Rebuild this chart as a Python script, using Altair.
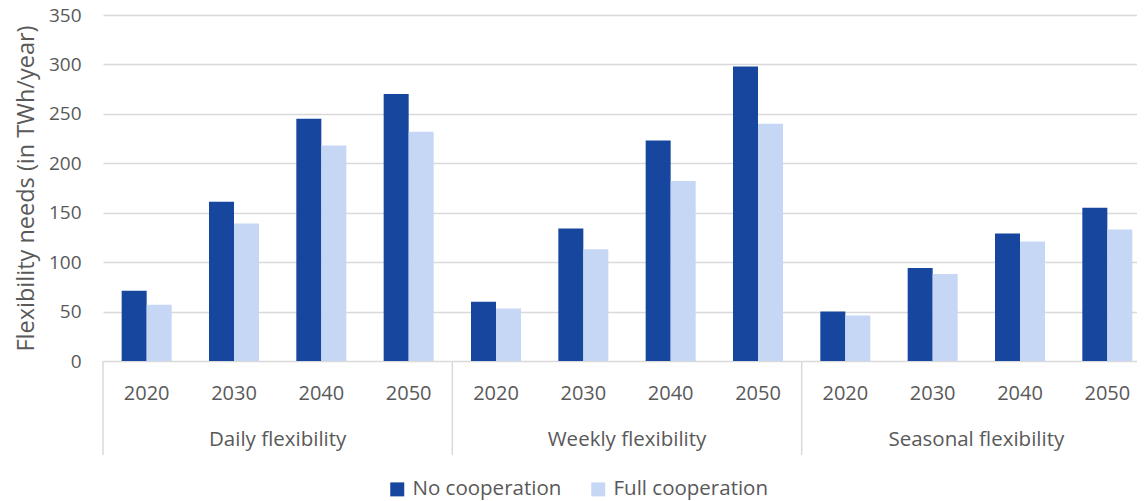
import altair as alt
import pandas as pd

groups = ["Daily flexibility", "Weekly flexibility", "Seasonal flexibility"]
years = ["2020", "2030", "2040", "2050"]
series = ["No cooperation", "Full cooperation"]
no_coop = [71, 161, 245, 270, 60, 134, 223, 298, 50, 94, 129, 155]
full_coop = [57, 139, 218, 232, 53, 113, 182, 240, 46, 88, 121, 133]
y_ticks = [0, 50, 100, 150, 200, 250, 300, 350]
colors = ["#17469E", "#C5D7F5"]
TEXT = "#595959"
GRID = "#D9D9D9"
FONT = "Open Sans"

cats = [f"{g}|{y}" for g in groups for y in years]
rows = []
for k, c in enumerate(cats):
    rows.append({"cat": c, "series": series[0], "value": no_coop[k]})
    rows.append({"cat": c, "series": series[1], "value": full_coop[k]})
df = pd.DataFrame(rows)

gdf = pd.DataFrame({"pos": [0.5, 1.5, 2.5], "label": groups})
sdf = pd.DataFrame({"pos": [0, 1, 2, 3]})

W, H, RW = 1034, 346, 1048
TOP = 7

bars = alt.Chart(df).mark_bar().encode(
    x=alt.X(
        "cat:N",
        sort=cats,
        scale=alt.Scale(domain=cats, range=[0, RW], paddingInner=0.4275, paddingOuter=0.21375),
        axis=alt.Axis(
            title=None,
            labelExpr="split(datum.label, '|')[1]",
            labelAngle=0,
            domain=False,
            ticks=False,
            tickSize=0,
            grid=False,
            labelPadding=22,
            labelFontSize=20,
            labelColor=TEXT,
            labelFont=FONT,
        ),
    ),
    xOffset=alt.XOffset("series:N", sort=series,
                        scale=alt.Scale(domain=series, paddingInner=0, paddingOuter=0)),
    y=alt.Y(
        "value:Q",
        scale=alt.Scale(domain=[0, 350], nice=False),
        axis=alt.Axis(
            values=y_ticks,
            title="Flexibility needs (in TWh/year)",
            titleFontSize=23.5,
            titleFontWeight="normal",
            titleColor=TEXT,
            titleFont=FONT,
            titlePadding=10,
            labelFontSize=19,
            labelColor=TEXT,
            labelFont=FONT,
            labelPadding=22,
            domain=False,
            ticks=False,
            grid=True,
            gridColor=GRID,
            gridWidth=1.5,
        ),
    ),
    color=alt.Color(
        "series:N",
        sort=series,
        scale=alt.Scale(domain=series, range=colors),
        legend=alt.Legend(
            title=None,
            orient="none",
            direction="horizontal",
            legendX=284,
            legendY=464,
            symbolType="square",
            symbolSize=196,
            symbolStrokeWidth=0,
            labelFontSize=20.5,
            labelColor=TEXT,
            labelFont=FONT,
            labelOffset=5,
            columnPadding=26,
        ),
    ),
)

xq = alt.X("pos:Q", scale=alt.Scale(domain=[0, 3], range=[0, RW], nice=False, zero=False), axis=None)

rules = alt.Chart(sdf).mark_rule(color=GRID, strokeWidth=1.5).encode(
    x=xq, y=alt.value(H), y2=alt.value(H + 94)
)

labels = alt.Chart(gdf).mark_text(
    fontSize=20.5, color=TEXT, font=FONT, baseline="middle", align="center"
).encode(x=xq, y=alt.value(H + 79), text="label:N")

chart = (
    alt.layer(bars, rules, labels)
    .resolve_scale(x="independent")
    .properties(
        width=W,
        height=H,
        padding={"left": 95, "top": TOP, "right": 0, "bottom": 140},
        autosize=alt.AutoSizeParams(type="none"),
        background="white",
    )
    .configure_view(stroke=None)
)

chart.save("out.html", embed_options={"renderer": "svg", "actions": False})
